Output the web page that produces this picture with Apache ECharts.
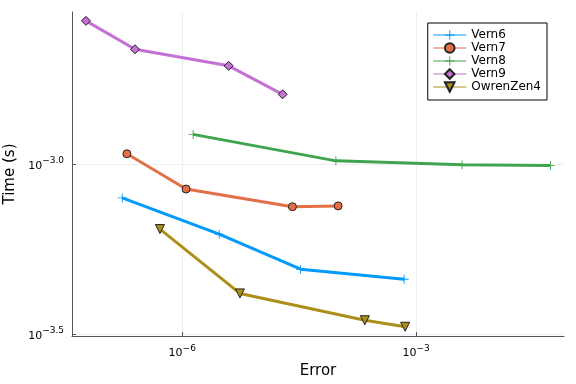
<!DOCTYPE html>
<html>
<head>
<meta charset="utf-8">
<script src="https://cdn.jsdelivr.net/npm/echarts@6/dist/echarts.min.js"></script>
<style>html,body{margin:0;padding:0;background:#fff}#c{width:576px;height:384px}</style>
</head>
<body>
<div id="c"></div>
<script>
// Error (x) and Time in seconds (y)
const seriesNames = ['Vern6', 'Vern7', 'Vern8', 'Vern9', 'OwrenZen4'];
const vern6Err = [1.70e-7, 2.98e-6, 3.30e-5, 7.02e-4];
const vern6Time = [7.94e-4, 6.21e-4, 4.90e-4, 4.58e-4];
const vern7Err = [1.95e-7, 1.12e-6, 2.59e-5, 1.00e-4];
const vern7Time = [1.07e-3, 8.43e-4, 7.48e-4, 7.52e-4];
const vern8Err = [1.38e-6, 9.35e-5, 3.89e-3, 5.28e-2];
const vern8Time = [1.22e-3, 1.02e-3, 9.93e-4, 9.89e-4];
const vern9Err = [5.82e-8, 2.48e-7, 3.94e-6, 1.94e-5];
const vern9Time = [2.63e-3, 2.17e-3, 1.94e-3, 1.60e-3];
const owrenErr = [5.18e-7, 5.50e-6, 2.20e-4, 7.23e-4];
const owrenTime = [6.43e-4, 4.16e-4, 3.47e-4, 3.32e-4];
// tick exponents
const xTickExps = [-6, -3];
const yTickExps = [-3.5, -3.0];

const colors = ['#009AFA', '#E36F47', '#3EA44E', '#C371D2', '#AC8E18'];
const plus = 'path://M-1,-10H1V-1H10V1H1V10H-1V1H-10V-1H-1Z';

function pts(xs, ys) { return xs.map((x, i) => [Math.log10(x), Math.log10(ys[i])]); }
function fmtExp(v, digits) {
  const s = (digits ? v.toFixed(digits) : String(Math.round(v))).replace('-', '\u2212');
  return '{b|10}{s|' + s + '}';
}
const rich = {
  b: { fontSize: 11, lineHeight: 15, verticalAlign: 'bottom', color: '#000', fontFamily: 'DejaVu Sans' },
  s: { fontSize: 9, lineHeight: 10, verticalAlign: 'top', color: '#000', fontFamily: 'DejaVu Sans' }
};

const datasets = [
  pts(vern6Err, vern6Time), pts(vern7Err, vern7Time), pts(vern8Err, vern8Time),
  pts(vern9Err, vern9Time), pts(owrenErr, owrenTime)
];
const symbols = [plus, 'circle', plus, 'diamond', 'triangle'];
const sizes = [9, 8, 9, 9, 9];

const series = seriesNames.map((n, i) => ({
  name: n,
  type: 'line',
  data: datasets[i],
  symbol: symbols[i],
  symbolSize: sizes[i],
  symbolRotate: i === 4 ? 180 : 0,
  showAllSymbol: true,
  lineStyle: { width: 3, color: colors[i] },
  itemStyle: {
    color: colors[i],
    borderColor: (i === 0 || i === 2) ? colors[i] : '#222',
    borderWidth: (i === 0 || i === 2) ? 0 : 1
  },
  emphasis: { disabled: true },
  animation: false
}));

const chart = echarts.init(document.getElementById('c'), null, { renderer: 'canvas' });
chart.setOption({
  animation: false,
  color: colors,
  textStyle: { fontFamily: 'DejaVu Sans' },
  grid: { left: 72, right: 12, top: 12, bottom: 48, containLabel: false, outerBoundsMode: 'none' },
  legend: {
    data: seriesNames,
    orient: 'vertical',
    right: 29,
    top: 23,
    itemWidth: 33,
    itemHeight: 12,
    itemGap: 1,
    padding: [6, 6, 7, 5],
    borderColor: '#000',
    borderWidth: 1,
    backgroundColor: '#fff',
    borderRadius: 0,
    lineStyle: { width: 1 },
    textStyle: { fontSize: 12, color: '#000', fontFamily: 'DejaVu Sans', padding: [0, 0, 0, 0] }
  },
  xAxis: {
    type: 'value',
    min: -7.414,
    max: -1.103,
    name: 'Error',
    nameLocation: 'middle',
    nameGap: 28,
    nameTextStyle: { fontSize: 15, color: '#000', fontFamily: 'DejaVu Sans' },
    axisLine: { show: true, onZero: false, lineStyle: { color: '#555', width: 1 } },
    axisTick: { show: true, inside: true, length: 4, customValues: xTickExps, lineStyle: { color: '#555' } },
    axisLabel: { customValues: xTickExps, margin: 8, formatter: v => fmtExp(v), rich: rich },
    splitLine: { show: true, lineStyle: { color: '#eeeeee', width: 1 } }
  },
  yAxis: {
    type: 'value',
    min: -3.506,
    max: -2.554,
    name: 'Time (s)',
    nameLocation: 'middle',
    nameGap: 53,
    nameRotate: 90,
    nameTextStyle: { fontSize: 15, color: '#000', fontFamily: 'DejaVu Sans' },
    axisLine: { show: true, onZero: false, lineStyle: { color: '#555', width: 1 } },
    axisTick: { show: true, inside: true, length: 4, customValues: yTickExps, lineStyle: { color: '#555' } },
    axisLabel: { customValues: yTickExps, margin: 8, formatter: v => fmtExp(v, 1), rich: rich },
    splitLine: { show: true, lineStyle: { color: '#eeeeee', width: 1 } }
  },
  series: series
});
</script>
</body>
</html>
